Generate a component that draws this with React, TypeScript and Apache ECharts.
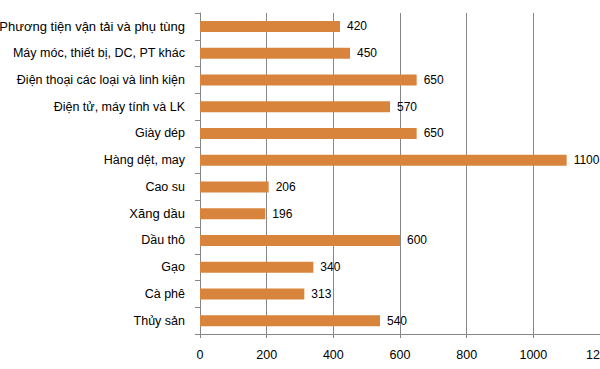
import React, { useEffect, useRef } from "react";
import * as echarts from "echarts";

const categories = [
  "Phương tiện vận tải và phụ tùng",
  "Máy móc, thiết bị, DC, PT khác",
  "Điện thoại các loại và linh kiện",
  "Điện tử, máy tính và LK",
  "Giày dép",
  "Hàng dệt, may",
  "Cao su",
  "Xăng dầu",
  "Dầu thô",
  "Gạo",
  "Cà phê",
  "Thủy sản",
];
const values = [420, 450, 650, 570, 650, 1100, 206, 196, 600, 340, 313, 540];
const bigLabels = ["Phương tiện vận tải và phụ tùng", "Xăng dầu"];

export default function App() {
  const ref = useRef<HTMLDivElement>(null);
  useEffect(() => {
    if (!ref.current) return;
    const chart = echarts.init(ref.current, null, { renderer: "svg" });
    const font = "Liberation Sans, Arial, sans-serif";
    chart.setOption({
      animation: false,
      backgroundColor: "#ffffff",
      grid: {
        left: 200,
        right: 0,
        top: 13,
        bottom: 35,
        containLabel: false,
        outerBoundsMode: "none",
      },
      xAxis: {
        type: "value",
        min: 0,
        max: 1200,
        interval: 200,
        axisLine: { show: true, lineStyle: { color: "#868686", width: 1 } },
        axisTick: { show: true, length: 4, lineStyle: { color: "#868686" } },
        splitLine: { show: true, lineStyle: { color: "#868686", width: 1 } },
        axisLabel: {
          color: "#000",
          fontSize: 12.5,
          fontFamily: font,
          margin: 14,
          hideOverlap: false,
          formatter: (v: number) => String(v),
        },
      },
      yAxis: {
        type: "category",
        inverse: true,
        data: categories,
        axisLine: { show: true, lineStyle: { color: "#868686", width: 1 } },
        axisTick: { show: true, length: 5, lineStyle: { color: "#868686" } },
        axisLabel: {
          color: "#000",
          fontFamily: font,
          fontSize: 12.5,
          margin: 15,
          formatter: (v: string) => (bigLabels.includes(v) ? `{big|${v}}` : v),
          rich: {
            big: { fontSize: 13, fontFamily: font, color: "#000" },
          },
        },
      },
      series: [
        {
          type: "bar",
          data: values,
          barWidth: 11,
          itemStyle: { color: "#D9843D" },
          label: {
            show: true,
            position: "right",
            distance: 7,
            color: "#000",
            fontSize: 12,
            fontFamily: font,
          },
        },
      ],
    });
    return () => chart.dispose();
  }, []);
  return (
    <div
      ref={ref}
      style={{ position: "fixed", left: 0, top: 0, width: 600, height: 369 }}
    />
  );
}
